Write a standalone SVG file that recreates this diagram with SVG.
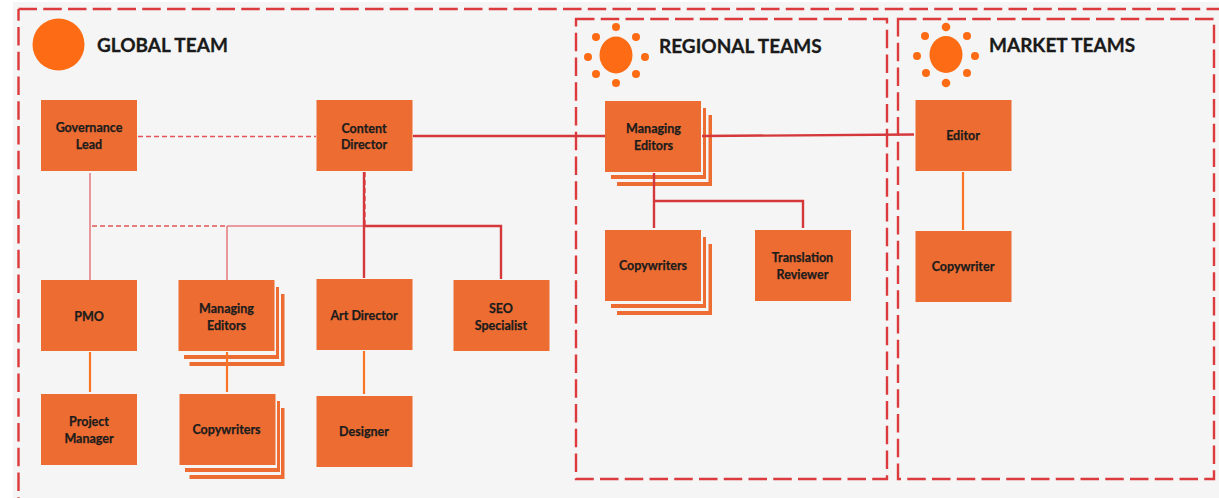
<svg xmlns="http://www.w3.org/2000/svg" width="1219" height="498" viewBox="0 0 1219 498">
<style>
.box{fill:#ec6c32}
.gap{fill:#f5f5f5}
.t{font-family:"Lato","Liberation Sans",sans-serif;font-weight:700;font-size:12.5px;fill:#1c1c1c;stroke:#1c1c1c;stroke-width:.25;text-anchor:middle}
.h{font-family:"Lato","Liberation Sans",sans-serif;font-weight:700;font-size:19px;fill:#1a1a1a;stroke:#1a1a1a;stroke-width:.3}
.frame{fill:none;stroke:#dc3a3c;stroke-width:2.4;stroke-dasharray:18.500 6.250}
.c{fill:none;stroke:#d5383b;stroke-width:2.4}
.l{fill:none;stroke:#e57f82;stroke-width:1.6}
.d{fill:none;stroke:#e4555a;stroke-width:1.4;stroke-dasharray:5 3}
.o{fill:none;stroke:#f97424;stroke-width:2.2}
.s{fill:#fd6c14}
</style>
<rect x="13" y="2" width="1206" height="496" fill="#f5f5f5"/>
<g id="frames">
<path class="frame" d="M18.500 9H1219"/>
<path class="frame" stroke-dashoffset="6.750" d="M18.500 9V498"/>
<rect class="frame" x="576" y="19" width="311" height="460"/>
<rect class="frame" x="898" y="19" width="316" height="460"/>
</g>
<g id="global-team">
<circle class="s" cx="58.500" cy="44.500" r="26"/>
<text class="h" x="97" y="52">GLOBAL TEAM</text>
</g>
<g id="regional-teams">
<g class="s"><ellipse cx="616" cy="55" rx="16.500" ry="18.500"/><circle cx="616" cy="27" r="4"/><circle cx="596" cy="37" r="4"/><circle cx="636" cy="37" r="4"/><circle cx="588" cy="57" r="4"/><circle cx="645" cy="57" r="4"/><circle cx="596" cy="74" r="4"/><circle cx="636" cy="74" r="4"/><circle cx="616" cy="83" r="4"/></g>
<text class="h" x="659" y="52.500">REGIONAL TEAMS</text>
</g>
<g id="market-teams">
<g class="s"><ellipse cx="946" cy="54.500" rx="16.500" ry="18.500"/><circle cx="946" cy="27" r="4.300"/><circle cx="925" cy="36" r="4"/><circle cx="967" cy="36" r="4"/><circle cx="917" cy="56" r="4"/><circle cx="975" cy="56" r="4"/><circle cx="926" cy="73" r="4"/><circle cx="967" cy="73" r="4"/><circle cx="946" cy="83" r="4.300"/></g>
<text class="h" x="989" y="52">MARKET TEAMS</text>
</g>
<g id="governance-lead"><rect class="box" x="41" y="100" width="96" height="71"/><text class="t" x="89" y="132">Governance</text><text class="t" x="89" y="149">Lead</text></g>
<g id="content-director"><rect class="box" x="316.500" y="100" width="96" height="71"/><text class="t" x="364" y="132.500">Content</text><text class="t" x="364" y="149">Director</text></g>
<g id="managing-editors-regional"><rect class="box" x="617" y="115" width="95" height="71"/><rect class="gap" x="610" y="110" width="98.500" height="72"/><rect class="box" x="611" y="108" width="95" height="71"/><rect class="gap" x="604" y="103" width="99" height="72"/><rect class="box" x="605" y="101" width="96" height="71"/><text class="t" x="653.500" y="133">Managing</text><text class="t" x="653.500" y="150">Editors</text></g>
<g id="editor"><rect class="box" x="915.500" y="100" width="96" height="71"/><text class="t" x="963" y="139.500">Editor</text></g>
<g id="pmo"><rect class="box" x="41" y="280" width="96" height="71"/><text class="t" x="89" y="320.500">PMO</text></g>
<g id="managing-editors-global"><rect class="box" x="189.500" y="294" width="95" height="72"/><rect class="gap" x="183" y="289" width="98" height="73"/><rect class="box" x="184" y="287" width="95" height="72"/><rect class="gap" x="177" y="282" width="99" height="73"/><rect class="box" x="178.500" y="280" width="96" height="71"/><text class="t" x="226.500" y="312.500">Managing</text><text class="t" x="226.500" y="329.500">Editors</text></g>
<g id="art-director"><rect class="box" x="316.500" y="279" width="96" height="71"/><text class="t" x="364" y="319.500">Art Director</text></g>
<g id="seo-specialist"><rect class="box" x="453.500" y="280" width="96" height="71"/><text class="t" x="501" y="312.500">SEO</text><text class="t" x="501" y="329.500">Specialist</text></g>
<g id="project-manager"><rect class="box" x="41" y="394" width="96" height="71"/><text class="t" x="89" y="426">Project</text><text class="t" x="89" y="443">Manager</text></g>
<g id="copywriters-global"><rect class="box" x="189.500" y="408" width="95" height="71"/><rect class="gap" x="184" y="403" width="97" height="72"/><rect class="box" x="185" y="401" width="95" height="71"/><rect class="gap" x="178" y="396" width="99" height="72"/><rect class="box" x="179.500" y="394" width="96" height="71"/><text class="t" x="226.500" y="434">Copywriters</text></g>
<g id="designer"><rect class="box" x="316.500" y="396" width="96" height="71"/><text class="t" x="364" y="436">Designer</text></g>
<g id="copywriters-regional"><rect class="box" x="617" y="244" width="95" height="71"/><rect class="gap" x="610" y="239" width="98.500" height="72"/><rect class="box" x="611" y="237" width="95" height="71"/><rect class="gap" x="604" y="232" width="99" height="72"/><rect class="box" x="605" y="230" width="96" height="71"/><text class="t" x="653" y="270">Copywriters</text></g>
<g id="translation-reviewer"><rect class="box" x="755" y="230" width="96" height="71"/><text class="t" x="802.500" y="262">Translation</text><text class="t" x="802.500" y="279">Reviewer</text></g>
<g id="copywriter"><rect class="box" x="915.500" y="231" width="96" height="71"/><text class="t" x="963" y="271">Copywriter</text></g>
<g id="connectors">
<path class="d" d="M138 136.500H316"/>
<path class="l" d="M90 173V280"/>
<path class="d" d="M92 226H227"/>
<path class="l" d="M227 226H364M227 226V280"/>
<path class="d" d="M365 172V226"/>
<path class="c" d="M364 172V278M364 226H501V279"/>
<path class="c" d="M413 136H605"/>
<path class="c" d="M702 136L914 134.500"/>
<path class="c" d="M654 173V228M654 201H803V228"/>
<path class="o" d="M90 352V392"/>
<path class="o" d="M227 352V392"/>
<path class="o" d="M364 351V394"/>
<path class="o" d="M963 172V230"/>
</g>
</svg>
